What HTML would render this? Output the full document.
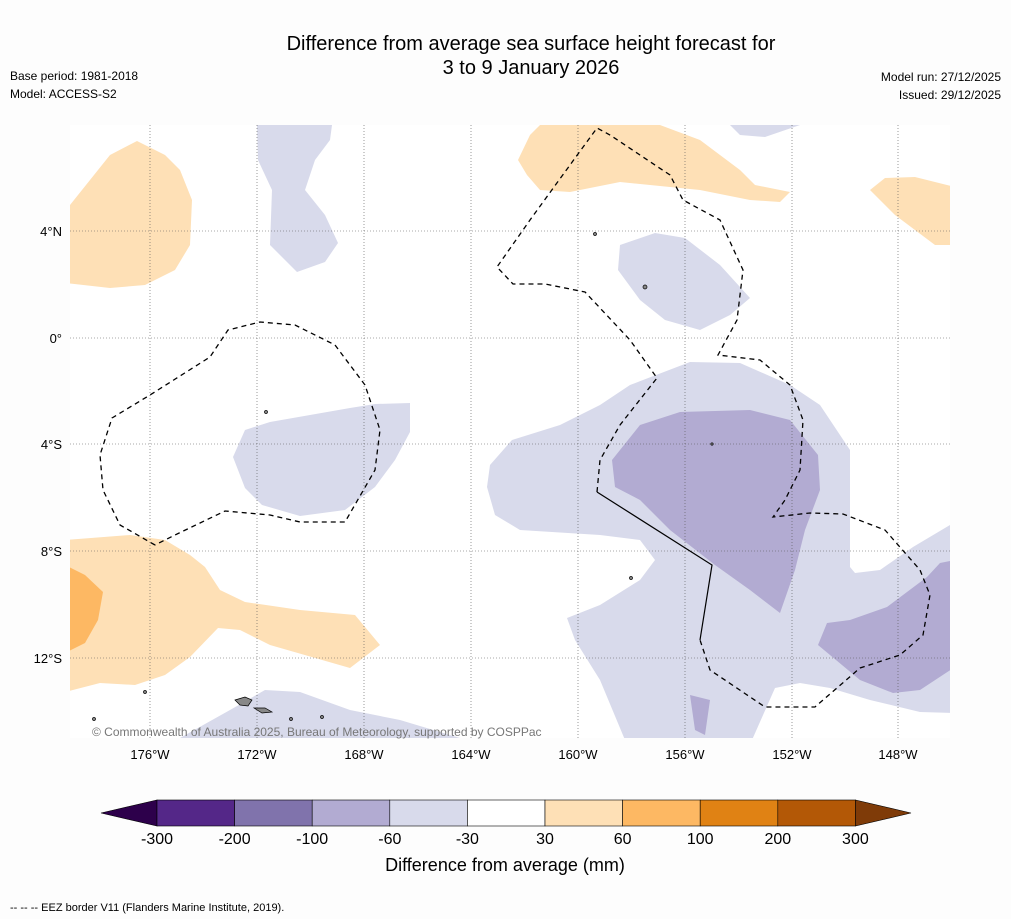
<!DOCTYPE html>
<html><head><meta charset="utf-8"><style>
body{margin:0;background:#fff;font-family:"Liberation Sans","DejaVu Sans",sans-serif}
svg{display:block}
</style></head><body>
<svg width="1011" height="919" viewBox="0 0 1011 919">
<rect width="1011" height="919" fill="#fdfdfd"/>
<text x="531" y="50" font-size="20" text-anchor="middle">Difference from average sea surface height forecast for</text>
<text x="531" y="74" font-size="20" text-anchor="middle">3 to 9 January 2026</text>
<text x="10" y="80" font-size="12">Base period: 1981-2018</text>
<text x="10" y="98" font-size="12">Model: ACCESS-S2</text>
<text x="1001" y="81" font-size="12" text-anchor="end">Model run: 27/12/2025</text>
<text x="1001" y="99" font-size="12" text-anchor="end">Issued: 29/12/2025</text>
<g>
<rect x="70" y="125" width="880" height="613" fill="#fff"/>
<clipPath id="c"><rect x="70" y="125" width="880" height="613"/></clipPath>
<g clip-path="url(#c)" stroke="none">
<g fill="#d8daeb">
<polygon points="257,125 332,125 330,140 315,160 305,190 325,215 338,243 325,262 297,272 270,245 272,190 258,160"/>
<polygon points="730,125 800,125 765,137 740,135"/>
<polygon points="620,245 655,233 685,238 720,265 750,298 730,315 700,330 665,320 640,300 618,270"/>
<polygon points="233,457 245,430 270,422 350,408 375,404 410,403 410,432 395,460 375,487 345,510 300,516 262,505 245,488"/>
<polygon points="487,487 490,465 512,440 560,425 600,405 630,385 690,362 740,363 790,385 820,405 850,450 850,567 855,573 880,570 913,547 955,522 955,713 920,712 870,700 830,688 800,683 775,688 752,740 625,740 600,680 575,640 567,618 600,605 640,580 655,560 640,540 600,535 520,530 495,515"/>
<polygon points="180,738 230,710 265,690 300,692 350,710 400,720 460,738"/>
</g>
<g fill="#b2abd2">
<polygon points="612,460 640,425 680,412 750,410 790,420 818,455 820,490 805,530 795,570 780,613 750,590 715,565 670,530 640,500 615,487"/>
<polygon points="818,645 827,623 850,620 887,607 927,577 940,563 955,560 955,667 920,690 893,693 860,680"/>
<polygon points="690,695 710,700 705,735 695,730"/>
</g>
<g fill="#fee0b6">
<polygon points="70,205 110,155 137,141 165,155 180,170 192,200 190,245 175,270 145,285 110,288 65,283 65,205"/>
<polygon points="540,125 660,125 700,140 740,170 755,185 790,192 780,202 750,200 700,190 620,182 570,192 540,190 527,175 518,160 530,135"/>
<polygon points="870,190 885,178 915,177 955,187 955,245 935,245 895,215"/>
<polygon points="65,540 130,535 165,540 190,555 205,567 220,590 245,602 300,610 355,615 380,645 350,668 270,645 240,630 218,628 190,657 165,675 135,685 100,683 65,692"/>
</g>
<polygon fill="#fdb863" points="65,565 85,575 103,592 98,620 85,643 65,653"/>
<g fill="#888" stroke="#000" stroke-width="0.7">
<polygon points="235,700 245,697 252,700 248,706 240,705"/>
<polygon points="254,708 265,708 272,712 262,713"/>
<circle cx="266" cy="412" r="1.5"/><circle cx="645" cy="287" r="2"/><circle cx="595" cy="234" r="1.5"/>
<circle cx="712" cy="444" r="1.2"/><circle cx="631" cy="578" r="1.5"/><circle cx="145" cy="692" r="1.5"/>
<circle cx="94" cy="719" r="1.5"/><circle cx="291" cy="719" r="1.5"/><circle cx="322" cy="717" r="1.5"/>
</g>
</g>
<g stroke="#555" stroke-width="0.6" stroke-dasharray="1,2">
<line x1="150" y1="125" x2="150" y2="738"/><line x1="257" y1="125" x2="257" y2="738"/><line x1="364" y1="125" x2="364" y2="738"/><line x1="471" y1="125" x2="471" y2="738"/><line x1="578" y1="125" x2="578" y2="738"/><line x1="685" y1="125" x2="685" y2="738"/><line x1="792" y1="125" x2="792" y2="738"/><line x1="898" y1="125" x2="898" y2="738"/>
<line x1="70" y1="231" x2="950" y2="231"/><line x1="70" y1="338" x2="950" y2="338"/><line x1="70" y1="444" x2="950" y2="444"/><line x1="70" y1="551" x2="950" y2="551"/><line x1="70" y1="658" x2="950" y2="658"/>
</g>
<g fill="none" stroke="#000" stroke-width="1.3" stroke-dasharray="5,4">
<polyline points="155,545 120,525 103,490 100,455 112,418 150,395 210,357 228,330 260,322 295,325 335,345 365,385 380,430 375,470 345,522 300,522 270,515 225,511 175,535 155,545"/>
<polyline points="597,492 600,460 620,425 657,378 630,340 585,292 545,284 513,284 497,267 530,220 570,165 597,128 610,135 640,155 670,175 683,200 720,220 743,270 737,320 718,355 760,360 790,385 803,420 800,470 785,500 773,517 810,513 843,514 885,530 920,570 930,595 923,635 900,655 860,668 815,707 765,707 710,670 700,640"/>
</g>
<polyline fill="none" stroke="#000" stroke-width="1.2" points="597,492 712,565 700,640"/>
<text x="92" y="736" font-size="12" fill="#777">© Commonwealth of Australia 2025, Bureau of Meteorology, supported by COSPPac</text>
</g>
<g font-size="13">
<g text-anchor="middle">
<text x="150" y="759">176°W</text><text x="257" y="759">172°W</text><text x="364" y="759">168°W</text><text x="471" y="759">164°W</text><text x="578" y="759">160°W</text><text x="685" y="759">156°W</text><text x="792" y="759">152°W</text><text x="898" y="759">148°W</text>
</g>
<g text-anchor="end">
<text x="62" y="236">4°N</text><text x="62" y="343">0°</text><text x="62" y="449">4°S</text><text x="62" y="556">8°S</text><text x="62" y="663">12°S</text>
</g>
</g>
<g id="cbar"></g>
<text x="505" y="871" font-size="18" text-anchor="middle">Difference from average (mm)</text>
<text x="10" y="911" font-size="11">--  --  -- EEZ border V11 (Flanders Marine Institute, 2019).</text>
</svg>
<script>
const binLabels=["-300","-200","-100","-60","-30","30","60","100","200","300"];
const binColors=["#542788","#8073ac","#b2abd2","#d8daeb","#ffffff","#fee0b6","#fdb863","#e08214","#b35806"];
const g=document.getElementById('cbar');
const ns="http://www.w3.org/2000/svg";
const x0=157,w=77.6,y0=800,h=26;
function mk(t,a){const e=document.createElementNS(ns,t);for(const k in a)e.setAttribute(k,a[k]);g.appendChild(e);return e;}
let lt=mk('polygon',{points:`${x0},${y0} ${x0},${y0+h} 101,${y0+h/2}`,fill:'#2d004b',stroke:'#000','stroke-width':0.6});


binColors.forEach((c,i)=>{
 const r=mk('rect',{x:x0+i*w,y:y0,width:w,height:h,fill:c,stroke:'#000','stroke-width':0.6});
 
 
});
const xe=x0+binColors.length*w;
let rt=mk('polygon',{points:`${xe},${y0} ${xe},${y0+h} 911,${y0+h/2}`,fill:'#7f3b08',stroke:'#000','stroke-width':0.6});


binLabels.forEach((l,i)=>{
 const t=mk('text',{x:x0+i*w,y:844,'font-size':16,'text-anchor':'middle'});
 t.textContent=l;
 
 
});
</script>
</body></html>
